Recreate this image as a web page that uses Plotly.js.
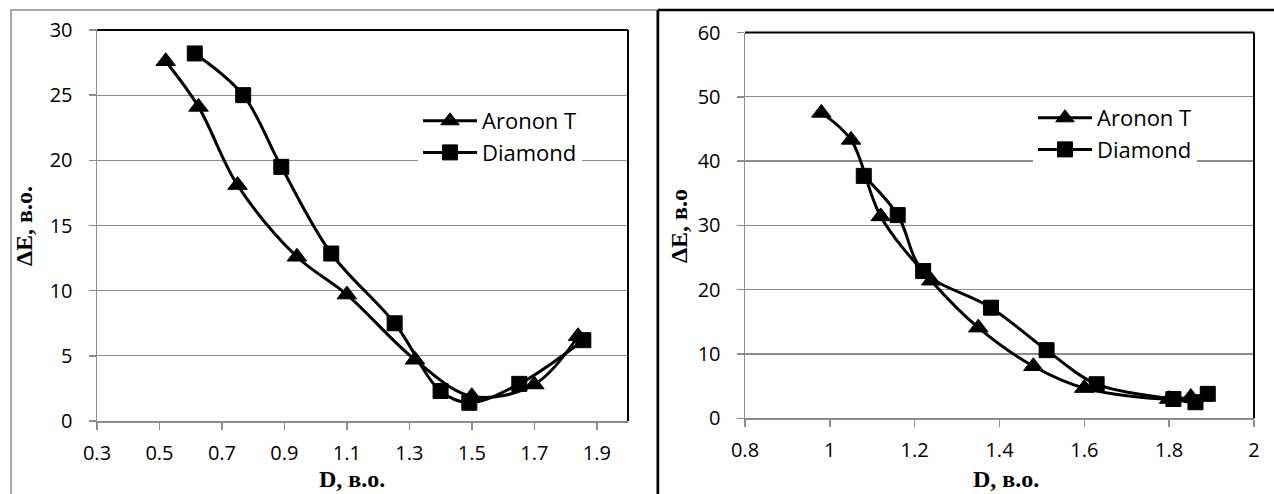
<!DOCTYPE html>
<html>
<head>
<meta charset="utf-8">
<script src="https://cdn.plot.ly/plotly-3.0.1.min.js"></script>
<style>
  html, body { margin: 0; padding: 0; background: #ffffff; }
  #chart { width: 1274px; height: 494px; }
</style>
</head>
<body>
<div id="chart"></div>
<script>
// ---- data ----
var seriesNames = ["Aronon T", "Diamond"];

// left panel
var arononLeftD = [0.52, 0.625, 0.75, 0.94, 1.10, 1.318, 1.50, 1.70, 1.84];
var arononLeftE = [27.6, 24.1, 18.1, 12.6, 9.7, 4.7, 1.9, 2.8, 6.5];
var diamondLeftD = [0.613, 0.768, 0.89, 1.05, 1.253, 1.40, 1.492, 1.652, 1.857];
var diamondLeftE = [28.2, 25.0, 19.5, 12.85, 7.5, 2.3, 1.4, 2.85, 6.2];

// right panel
var arononRightD = [0.98, 1.05, 1.12, 1.239, 1.35, 1.48, 1.60, 1.80, 1.851];
var arononRightE = [47.5, 43.3, 31.4, 21.4, 14.1, 8.1, 4.7, 3.0, 3.3];
var diamondRightD = [1.08, 1.16, 1.22, 1.38, 1.511, 1.629, 1.81, 1.862, 1.891];
var diamondRightE = [37.7, 31.6, 22.9, 17.2, 10.6, 5.3, 3.0, 2.5, 3.8];

// tick labels
var leftXTicks = [0.3, 0.5, 0.7, 0.9, 1.1, 1.3, 1.5, 1.7, 1.9];
var leftXTickText = ["0.3", "0.5", "0.7", "0.9", "1.1", "1.3", "1.5", "1.7", "1.9"];
var leftYTicks = [0, 5, 10, 15, 20, 25, 30];
var rightXTicks = [0.8, 1.0, 1.2, 1.4, 1.6, 1.8, 2.0];
var rightXTickText = ["0.8", "1", "1.2", "1.4", "1.6", "1.8", "2"];
var rightYTicks = [0, 10, 20, 30, 40, 50, 60];

var xTitleText = "D, в.о.";
var yTitleLeft = "ΔE, в.о.";
var yTitleRight = "ΔE, в.о";

// ---- geometry helpers (pixels -> paper) ----
var W = 1274, H = 494;
function px(x) { return x / W; }
function py(y) { return 1 - y / H; }

var tickFont = { family: "Open Sans, sans-serif", size: 20, color: "#000" };
var legendFont = { family: "Open Sans, sans-serif", size: 22, color: "#000" };
var titleFont = { family: "Liberation Serif, Times New Roman, serif", size: 24, color: "#000", weight: "bold" };
var gridCol = "#8c8c8c";

function lineTrace(x, y, name, symbol, size, xa, ya, leg) {
  return {
    x: x, y: y, name: name, type: "scatter", mode: "lines+markers",
    xaxis: xa, yaxis: ya, legend: leg,
    line: { color: "#000", width: 3, shape: "spline", smoothing: 1 },
    marker: { symbol: symbol, size: size, color: "#000", line: { color: "#000", width: 1 } }
  };
}

var traces = [
  lineTrace(arononLeftD, arononLeftE, seriesNames[0], "triangle-up", 17, "x", "y", "legend"),
  lineTrace(diamondLeftD, diamondLeftE, seriesNames[1], "square", 15, "x", "y", "legend"),
  lineTrace(arononRightD, arononRightE, seriesNames[0], "triangle-up", 17, "x2", "y2", "legend2"),
  lineTrace(diamondRightD, diamondRightE, seriesNames[1], "square", 15, "x2", "y2", "legend2")
];

function xAxis(domain, range, vals, texts, anchor) {
  return {
    domain: domain, range: range, anchor: anchor,
    tickmode: "array", tickvals: vals, ticktext: texts,
    showgrid: false, zeroline: false,
    showline: true, linecolor: gridCol, linewidth: 1.5,
    ticks: "outside", ticklen: 7, tickwidth: 1.5, tickcolor: gridCol,
    tickfont: tickFont, ticklabelstandoff: 6, fixedrange: true
  };
}
function yAxis(domain, range, vals, anchor) {
  return {
    domain: domain, range: range, anchor: anchor,
    tickmode: "array", tickvals: vals,
    showgrid: true, gridcolor: gridCol, gridwidth: 1.3,
    zeroline: false,
    showline: true, linecolor: gridCol, linewidth: 1.5,
    ticks: "outside", ticklen: 7, tickwidth: 1.5, tickcolor: gridCol,
    tickfont: tickFont, ticklabelstandoff: 12, fixedrange: true
  };
}

var L = { x0: 97, x1: 628, y0: 30, y1: 421 };
var R = { x0: 745, x1: 1254, y0: 32.5, y1: 418.3 };

var layout = {
  width: W, height: H, autosize: false,
  margin: { l: 0, r: 0, t: 0, b: 0, pad: 0 },
  paper_bgcolor: "#ffffff", plot_bgcolor: "rgba(0,0,0,0)",
  showlegend: true,
  xaxis: xAxis([px(L.x0), px(L.x1)], [0.3, 2.0], leftXTicks, leftXTickText, "y"),
  yaxis: yAxis([py(L.y1), py(L.y0)], [0, 30], leftYTicks, "x"),
  xaxis2: xAxis([px(R.x0), px(R.x1)], [0.8, 2.0], rightXTicks, rightXTickText, "y2"),
  yaxis2: yAxis([py(R.y1), py(R.y0)], [0, 60], rightYTicks, "x2"),
  legend: {
    x: px(418), y: py(100), xanchor: "left", yanchor: "top",
    bgcolor: "#ffffff", borderwidth: 0, font: legendFont,
    itemwidth: 54, tracegroupgap: 0
  },
  legend2: {
    x: px(1033), y: py(97), xanchor: "left", yanchor: "top",
    bgcolor: "#ffffff", borderwidth: 0, font: legendFont,
    itemwidth: 54, tracegroupgap: 0
  },
  shapes: [
    // left chart-area frame (grey)
    { type: "rect", xref: "paper", yref: "paper", x0: px(11), x1: px(657), y0: py(10), y1: py(520),
      line: { color: "#8a8a8a", width: 1.5 }, fillcolor: "rgba(0,0,0,0)", layer: "below" },
    // right chart-area frame (black)
    { type: "line", xref: "paper", yref: "paper", x0: px(658), x1: px(1290), y0: py(10), y1: py(10),
      line: { color: "#000", width: 2.5 } },
    { type: "line", xref: "paper", yref: "paper", x0: px(658), x1: px(658), y0: py(10), y1: py(520),
      line: { color: "#000", width: 2.5 } },
    // plot-area top/right borders (black)
    { type: "line", xref: "paper", yref: "paper", x0: px(L.x0), x1: px(L.x1), y0: py(L.y0), y1: py(L.y0),
      line: { color: "#000", width: 2 } },
    { type: "line", xref: "paper", yref: "paper", x0: px(L.x1), x1: px(L.x1), y0: py(L.y0), y1: py(L.y1),
      line: { color: "#000", width: 2 } },
    { type: "line", xref: "paper", yref: "paper", x0: px(R.x0), x1: px(R.x1), y0: py(R.y0), y1: py(R.y0),
      line: { color: "#000", width: 2 } },
    { type: "line", xref: "paper", yref: "paper", x0: px(R.x1), x1: px(R.x1), y0: py(R.y0), y1: py(R.y1),
      line: { color: "#000", width: 2 } }
  ],
  annotations: [
    { xref: "paper", yref: "paper", x: px(352), y: py(479), text: xTitleText, showarrow: false,
      font: titleFont, xanchor: "center", yanchor: "middle" },
    { xref: "paper", yref: "paper", x: px(1006), y: py(479), text: xTitleText, showarrow: false,
      font: titleFont, xanchor: "center", yanchor: "middle" },
    { xref: "paper", yref: "paper", x: px(24), y: py(226), text: yTitleLeft, showarrow: false,
      font: titleFont, textangle: -90, xanchor: "center", yanchor: "middle" },
    { xref: "paper", yref: "paper", x: px(679), y: py(226), text: yTitleRight, showarrow: false,
      font: titleFont, textangle: -90, xanchor: "center", yanchor: "middle" }
  ]
};

Plotly.newPlot("chart", traces, layout, { staticPlot: true, displayModeBar: false });
</script>
</body>
</html>
